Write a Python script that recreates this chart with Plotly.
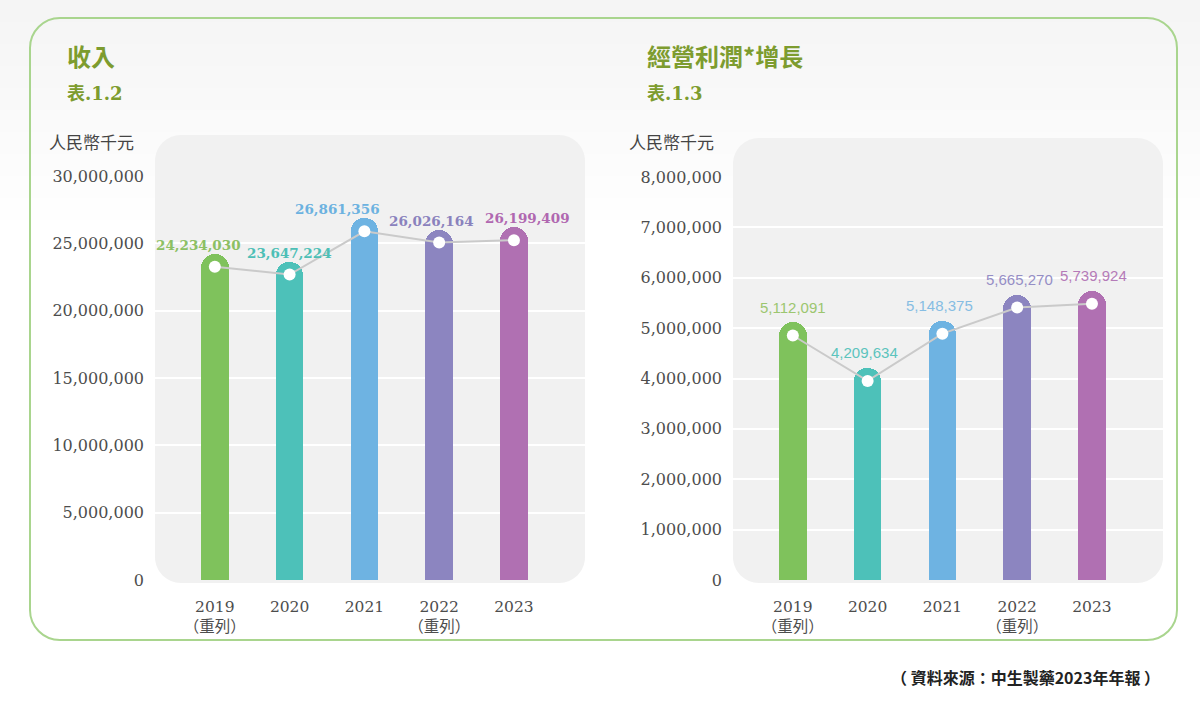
import plotly.graph_objects as go

W, H = 1200, 710

# ---------------- data ----------------
years = ["2019<br>（重列）", "2020", "2021", "2022<br>（重列）", "2023"]
revenue = [24234030, 23647224, 26861356, 26026164, 26199409]
op_profit = [5112091, 4209634, 5148375, 5665270, 5739924]
rev_ticks = [0, 5000000, 10000000, 15000000, 20000000, 25000000, 30000000]
op_ticks = [0, 1000000, 2000000, 3000000, 4000000, 5000000, 6000000, 7000000, 8000000]

# ---------------- style ----------------
bar_colors = ["#7fc25c", "#4dc1b9", "#6eb3e2", "#8c85c0", "#b070b2"]
rev_label_colors = ["#8cc063", "#4dbfb6", "#6cb2e0", "#8a82bd", "#b068b0"]
op_label_colors = ["#9cc66f", "#5cc4bd", "#86bde3", "#958ec6", "#b57bb8"]
rev_label_xshift = [-16, 0, -27, -8, 14]
op_label_xshift = [0, -3, -3, 2, 2]
title_color = "#7d9c2f"
serif = "DejaVu Serif, Noto Sans CJK TC"
cjk = "Noto Sans CJK TC"


def px(x):
    return x / W


def py(y):
    return 1 - y / H


def rrect_path(x0, y0, x1, y1, r):
    k = 0.5523 * r
    pts = [
        ("M", [(x0 + r, y0)]),
        ("L", [(x1 - r, y0)]),
        ("C", [(x1 - r + k, y0), (x1, y0 + r - k), (x1, y0 + r)]),
        ("L", [(x1, y1 - r)]),
        ("C", [(x1, y1 - r + k), (x1 - r + k, y1), (x1 - r, y1)]),
        ("L", [(x0 + r, y1)]),
        ("C", [(x0 + r - k, y1), (x0, y1 - r + k), (x0, y1 - r)]),
        ("L", [(x0, y0 + r)]),
        ("C", [(x0, y0 + r - k), (x0 + r - k, y0), (x0 + r, y0)]),
    ]
    s = ""
    for cmd, ps in pts:
        s += cmd + " " + " ".join(f"{px(a):.5f},{py(b):.5f}" for a, b in ps) + " "
    return s + "Z"


# axis geometry (pixels)
L_X0, L_X1 = 155, 585
R_X0, R_X1 = 733, 1163
Y_ZERO = 580
L_YTOP, R_YTOP = 176, 177
rev_max, op_max = 30000000, 8000000
x_range = [-0.8, 4.95]
dot_px = 13
rev_dot_off = dot_px * rev_max / (Y_ZERO - L_YTOP)
op_dot_off = dot_px * op_max / (Y_ZERO - R_YTOP)

fig = go.Figure()

# left chart
fig.add_trace(go.Bar(x=years, y=revenue, width=0.37,
                     marker=dict(color=bar_colors, cornerradius="50%", line_width=0),
                     xaxis="x", yaxis="y", hoverinfo="skip"))
fig.add_trace(go.Scatter(x=years, y=[v - rev_dot_off for v in revenue],
                         mode="lines+markers",
                         line=dict(color="#cacaca", width=2),
                         marker=dict(size=12, color="white"),
                         xaxis="x", yaxis="y", hoverinfo="skip"))
# right chart
fig.add_trace(go.Bar(x=years, y=op_profit, width=0.37,
                     marker=dict(color=bar_colors, cornerradius="50%", line_width=0),
                     xaxis="x2", yaxis="y2", hoverinfo="skip"))
fig.add_trace(go.Scatter(x=years, y=[v - op_dot_off for v in op_profit],
                         mode="lines+markers",
                         line=dict(color="#cacaca", width=2),
                         marker=dict(size=12, color="white"),
                         xaxis="x2", yaxis="y2", hoverinfo="skip"))

annotations = []
for i, v in enumerate(revenue):
    annotations.append(dict(x=i, y=v, xref="x", yref="y", text=f"{v:,}",
                            showarrow=False, yshift=9, xshift=rev_label_xshift[i],
                            yanchor="middle",
                            font=dict(family=serif, size=13.5, color=rev_label_colors[i], weight="bold")))
for i, v in enumerate(op_profit):
    annotations.append(dict(x=i, y=v, xref="x2", yref="y2", text=f"{v:,}",
                            showarrow=False, yshift=15, xshift=op_label_xshift[i],
                            yanchor="middle",
                            font=dict(family="Liberation Sans, Arial", size=15, color=op_label_colors[i])))

# titles
for x, t1, t2 in [(65, "收入", "表.1.2"), (645, "經營利潤*增長", "表.1.3")]:
    annotations.append(dict(x=px(x), y=py(55), xref="paper", yref="paper", text=t1,
                            showarrow=False, xanchor="left", yanchor="middle",
                            font=dict(family=cjk, size=24, color=title_color, weight="bold")))
    annotations.append(dict(x=px(x), y=py(93), xref="paper", yref="paper", text=t2,
                            showarrow=False, xanchor="left", yanchor="middle",
                            font=dict(family=serif, size=18, color=title_color, weight="bold")))
for x in (47, 627):
    annotations.append(dict(x=px(x), y=py(142), xref="paper", yref="paper", text="人民幣千元",
                            showarrow=False, xanchor="left", yanchor="middle",
                            font=dict(family=cjk, size=17, color="#444444")))
annotations.append(dict(x=px(1162), y=py(677), xref="paper", yref="paper",
                        text="（ 資料來源：中生製藥2023年年報 ）",
                        showarrow=False, xanchor="right", yanchor="middle",
                        font=dict(family=cjk, size=16, color="#222222", weight="bold")))

shapes = []
# soft top shading
for k in range(10):
    shapes.append(dict(type="rect", xref="paper", yref="paper", x0=0, x1=1,
                       y0=py((k + 1) * 22), y1=1, line_width=0,
                       fillcolor="rgba(190,190,185,0.02)", layer="below"))
# chart backgrounds
shapes.append(dict(type="path", xref="paper", yref="paper",
                   path=rrect_path(L_X0, 135, L_X1, 583, 26),
                   fillcolor="#f1f1f1", line_width=0, layer="below"))
shapes.append(dict(type="path", xref="paper", yref="paper",
                   path=rrect_path(R_X0, 138, R_X1, 583, 26),
                   fillcolor="#f1f1f1", line_width=0, layer="below"))
# outer border
shapes.append(dict(type="path", xref="paper", yref="paper",
                   path=rrect_path(30, 18, 1177, 640, 30),
                   fillcolor="rgba(0,0,0,0)", line=dict(color="#a9d58e", width=2), layer="below"))

tickfont = dict(family=serif, size=16, color="#4d4d4d")
xtickfont = dict(family=serif, size=15.5, color="#4d4d4d")

fig.update_layout(
    width=W, height=H, autosize=False,
    margin=dict(l=0, r=0, t=0, b=0, pad=0, autoexpand=False),
    paper_bgcolor="white", plot_bgcolor="rgba(0,0,0,0)",
    showlegend=False, hovermode=False, bargap=0,
    annotations=annotations, shapes=shapes,
    xaxis=dict(domain=[px(L_X0), px(L_X1)], anchor="y", type="category",
               range=x_range, showgrid=False, zeroline=False, showline=False,
               ticks="", tickfont=xtickfont, ticklabelstandoff=15, automargin=False),
    yaxis=dict(domain=[py(Y_ZERO), py(L_YTOP)], anchor="x", range=[0, rev_max],
               tickvals=rev_ticks, tickformat=",", showgrid=True, gridcolor="white",
               gridwidth=1.5, zeroline=False, showline=False, ticks="",
               tickfont=tickfont, ticklabelstandoff=10, automargin=False),
    xaxis2=dict(domain=[px(R_X0), px(R_X1)], anchor="y2", type="category",
                range=x_range, showgrid=False, zeroline=False, showline=False,
                ticks="", tickfont=xtickfont, ticklabelstandoff=15, automargin=False),
    yaxis2=dict(domain=[py(Y_ZERO), py(R_YTOP)], anchor="x2", range=[0, op_max],
                tickvals=op_ticks, tickformat=",", showgrid=True, gridcolor="white",
                gridwidth=1.5, zeroline=False, showline=False, ticks="",
                tickfont=tickfont, ticklabelstandoff=10, automargin=False),
)

fig.write_html("out.html")
